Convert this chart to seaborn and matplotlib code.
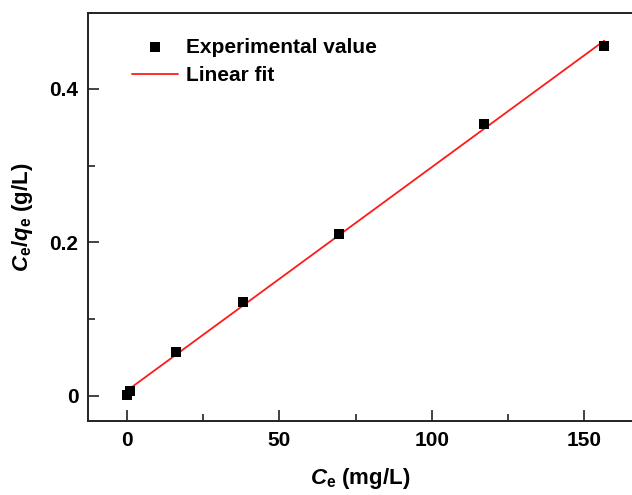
import numpy as np
import pandas as pd
import matplotlib
matplotlib.use("Agg")
import matplotlib.pyplot as plt
from matplotlib.ticker import FixedLocator, FuncFormatter
import seaborn as sns

ce = [0.0, 1.2, 16.1, 38.0, 69.6, 117.0, 156.5]
ce_qe = [0.001, 0.0065, 0.057, 0.123, 0.211, 0.354, 0.456]
x_ticks = [0, 50, 100, 150]
x_minor = [25, 75, 125]
y_ticks = [0, 0.2, 0.4]
y_minor = [0.1, 0.3]
y_tick_labels = ["0", "0.2", "0.4"]

sns.set_theme(style="ticks")
plt.rcParams['font.family'] = ['Liberation Sans', 'DejaVu Sans']
plt.rcParams['font.weight'] = 'bold'
plt.rcParams['text.color'] = 'black'
plt.rcParams['axes.labelcolor'] = 'black'
plt.rcParams['mathtext.fontset'] = 'custom'
plt.rcParams['mathtext.rm'] = 'Liberation Sans:bold'
plt.rcParams['mathtext.it'] = 'Liberation Sans:italic:bold'
plt.rcParams['mathtext.bf'] = 'Liberation Sans:bold'

df = pd.DataFrame({"Ce": ce, "Ce_qe": ce_qe})

fig = plt.figure(figsize=(6.32, 4.95), dpi=100)
ax = fig.add_axes([88/632, 1 - 421/495, 1 - 88/632, (421 - 13)/495])

sns.scatterplot(data=df, x="Ce", y="Ce_qe", marker="s", s=60, color="black",
                edgecolor="black", linewidth=0, ax=ax, label="Experimental value", zorder=3)
sns.regplot(data=df, x="Ce", y="Ce_qe", scatter=False, ci=None, ax=ax,
            line_kws=dict(color="#ff1a1a", lw=1.3), label="Linear fit")

ax.set_xlim(-12.7, 165.6)
ax.set_ylim(-0.0326, 0.499)
ax.xaxis.set_major_locator(FixedLocator(x_ticks))
ax.xaxis.set_minor_locator(FixedLocator(x_minor))
ax.yaxis.set_major_locator(FixedLocator(y_ticks))
ax.yaxis.set_minor_locator(FixedLocator(y_minor))
ax.xaxis.set_major_formatter(FuncFormatter(lambda v, p: f"{int(v)}"))
ax.set_yticklabels(y_tick_labels)

for s in ["left", "bottom", "top"]:
    ax.spines[s].set_linewidth(1.4)
    ax.spines[s].set_color("#222222")
ax.spines["right"].set_visible(False)
ax.tick_params(which="major", direction="in", length=8, width=1.2, colors="#222222",
               labelsize=15, labelcolor="black", pad=7)
ax.tick_params(which="minor", direction="in", length=5, width=1.2, colors="#222222")
ax.tick_params(top=False, right=False, which="both")
for lab in ax.get_xticklabels() + ax.get_yticklabels():
    lab.set_fontweight("bold")

ax.set_xlabel(r"$C_{\mathrm{e}}$ (mg/L)", fontsize=16, fontweight="bold", labelpad=12)
ax.set_ylabel(r"$C_{\mathrm{e}}$/$q_{\mathrm{e}}$ (g/L)", fontsize=16, fontweight="bold", labelpad=10)

leg = ax.legend(loc="upper left", bbox_to_anchor=(0.047, 0.985), frameon=False,
                prop=dict(size=15, weight="bold"), handlelength=2.2, handletextpad=0.4,
                labelspacing=0.45)

fig.savefig("out.png", dpi=100)
